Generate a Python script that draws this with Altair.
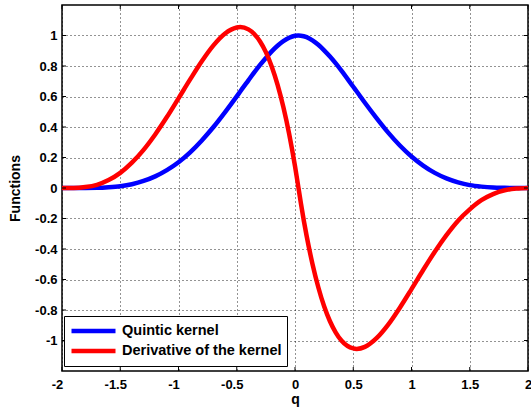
import altair as alt
import pandas as pd

# ---- data ----
q = [-2.0, -1.9, -1.8, -1.7, -1.6, -1.5, -1.4, -1.3, -1.2, -1.1, -1.0, -0.9, -0.8,
     -0.7, -0.6, -0.5, -0.47, -0.4, -0.35, -0.3, -0.25, -0.2, -0.15, -0.1, -0.05,
     0.0, 0.03, 0.05, 0.1, 0.15, 0.2, 0.25, 0.3, 0.35, 0.4, 0.5, 0.53, 0.6, 0.7,
     0.8, 0.9, 1.0, 1.1, 1.2, 1.3, 1.4, 1.5, 1.6, 1.7, 1.8, 1.9, 2.0]
kernel = [0.000, 0.000, 0.000, 0.001, 0.005, 0.012, 0.025, 0.046, 0.076, 0.117, 0.169,
          0.234, 0.312, 0.400, 0.498, 0.601, 0.633, 0.706, 0.758, 0.807, 0.853, 0.896,
          0.933, 0.963, 0.985, 0.998, 1.000, 0.999, 0.989, 0.968, 0.939, 0.903, 0.862,
          0.817, 0.768, 0.664, 0.633, 0.559, 0.458, 0.363, 0.279, 0.207, 0.147, 0.099,
          0.063, 0.037, 0.019, 0.009, 0.003, 0.001, 0.000, 0.000]
derivative = [0.000, 0.000, 0.006, 0.021, 0.052, 0.099, 0.166, 0.250, 0.351, 0.465, 0.588,
              0.712, 0.831, 0.935, 1.013, 1.052, 1.055, 1.040, 1.010, 0.961, 0.891, 0.797,
              0.678, 0.531, 0.354, 0.143, 0.000, -0.097, -0.315, -0.498, -0.651, -0.776,
              -0.874, -0.948, -1.002, -1.052, -1.055, -1.042, -0.985, -0.896, -0.785,
              -0.663, -0.538, -0.418, -0.309, -0.214, -0.140, -0.080, -0.040, -0.015,
              -0.004, 0.000]
series_names = ["Quintic kernel", "Derivative of the kernel"]
series_colors = ["#0000ff", "#ff0000"]
x_ticks = [-2, -1.5, -1, -0.5, 0, 0.5, 1, 1.5, 2]
y_ticks = [-1, -0.8, -0.6, -0.4, -0.2, 0, 0.2, 0.4, 0.6, 0.8, 1]

W, H = 466, 366
FONT = "Liberation Sans"

df = pd.DataFrame({
    "q": q + q,
    "value": kernel + derivative,
    "series": [series_names[0]] * len(q) + [series_names[1]] * len(q),
})
xt = pd.DataFrame({"t": x_ticks})
yt = pd.DataFrame({"t": y_ticks})

x_scale = alt.Scale(domain=[-2, 2], nice=False, zero=False)
y_scale = alt.Scale(domain=[-1.2, 1.2], nice=False, zero=False)

x_axis = alt.Axis(values=x_ticks, labelExpr="toString(datum.value)",
                  labelOffset={"condition": {"test": "datum.value < 0", "value": -5}, "value": 0},
                  grid=True, ticks=False, tickSize=0, domain=False, title="q",
                  labelPadding=7, titlePadding=1, labelFlush=False)
y_axis = alt.Axis(values=y_ticks, labelExpr="toString(datum.value)", grid=True,
                  ticks=False, tickSize=0, domain=False, title="Functions",
                  labelPadding=5, titlePadding=12)

color = alt.Color(
    "series:N",
    scale=alt.Scale(domain=series_names, range=series_colors),
    sort=series_names,
    legend=alt.Legend(
        title=None, orient="none", legendX=2, legendY=311,
        symbolType="stroke", symbolStrokeWidth=4.5, symbolSize=1936,
        labelFont=FONT, labelFontSize=14.5, labelFontWeight="bold", labelColor="black",
        labelLimit=400, labelOffset=4, clipHeight=20, rowPadding=0,
        strokeColor="black", fillColor="white", padding=5,
    ),
)

base = alt.Chart(df).mark_line(strokeWidth=4.5, interpolate="monotone").encode(
    x=alt.X("q:Q", scale=x_scale, axis=x_axis),
    y=alt.Y("value:Q", scale=y_scale, axis=y_axis),
    color=color,
)
blue = base.transform_filter(alt.datum.series == series_names[0])
red = base.transform_filter(alt.datum.series == series_names[1])

tk = 4
bottom_ticks = alt.Chart(xt).mark_rule(color="black", strokeWidth=1).encode(
    x=alt.X("t:Q", scale=x_scale, axis=x_axis), y=alt.value(H), y2=alt.value(H - tk))
top_ticks = alt.Chart(xt).mark_rule(color="black", strokeWidth=1).encode(
    x=alt.X("t:Q", scale=x_scale, axis=x_axis), y=alt.value(0), y2=alt.value(tk))
left_ticks = alt.Chart(yt).mark_rule(color="black", strokeWidth=1).encode(
    y=alt.Y("t:Q", scale=y_scale, axis=y_axis), x=alt.value(0), x2=alt.value(tk))
right_ticks = alt.Chart(yt).mark_rule(color="black", strokeWidth=1).encode(
    y=alt.Y("t:Q", scale=y_scale, axis=y_axis), x=alt.value(W), x2=alt.value(W - tk))

chart = alt.layer(blue, red, bottom_ticks, top_ticks, left_ticks, right_ticks).properties(
    width=W, height=H,
    autosize=alt.AutoSizeParams(type="none"),
    padding={"left": 62, "top": 5, "right": 3, "bottom": 38},
    background="white",
).configure_view(
    stroke="black", strokeWidth=1.5
).configure_axis(
    labelFont=FONT, labelFontSize=13, labelFontWeight="bold", labelColor="black",
    titleFont=FONT, titleFontSize=14, titleFontWeight="bold", titleColor="black",
    gridColor="black", gridDash=[1, 3], gridOpacity=0.85, gridWidth=1,
)

chart.save("out.html", embed_options={"renderer": "svg", "actions": False})
